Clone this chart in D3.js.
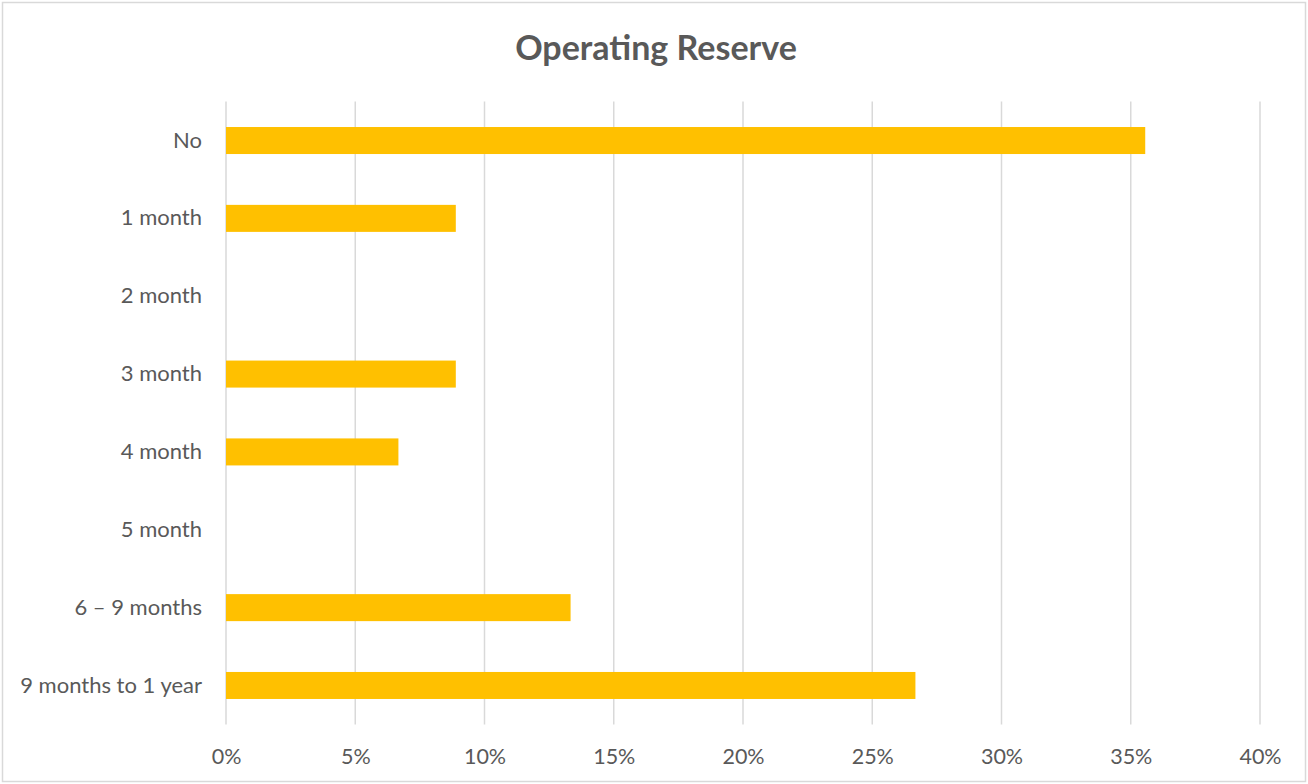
<!DOCTYPE html>
<html>
<head>
<meta charset="utf-8">
<script src="https://cdn.jsdelivr.net/npm/d3@7"></script>
<style>
  html, body { margin: 0; padding: 0; background: #fff; }
  svg { display: block; }
  text { font-family: Lato, "Open Sans", sans-serif; }
</style>
</head>
<body>
<svg id="chart" width="1308" height="784"></svg>
<script>
// Share of respondents by size of operating reserve
const categories = ["No", "1 month", "2 month", "3 month", "4 month", "5 month", "6 \u2013 9 months", "9 months to 1 year"];
const shares = [0.3556, 0.0889, 0, 0.0889, 0.0667, 0, 0.1333, 0.2667];
const tickValues = [0, 0.05, 0.10, 0.15, 0.20, 0.25, 0.30, 0.35, 0.40];
const chartTitle = "Operating Reserve";

const svg = d3.select("#chart");
const W = 1308, H = 784;
const margin = { top: 101.6, right: 48, bottom: 59.6, left: 226 };
const labelFont = "Lato, 'Open Sans', sans-serif";

// chart frame
svg.append("rect")
  .attr("x", 2.5).attr("y", 2.5)
  .attr("width", W - 5).attr("height", H - 5)
  .attr("fill", "#fff").attr("stroke", "#d9d9d9").attr("stroke-width", 1.5);

const x = d3.scaleLinear().domain([0, 0.4]).range([margin.left, W - margin.right]);
const y = d3.scaleBand().domain(categories)
  .range([margin.top, H - margin.bottom])
  .paddingInner(0.653).paddingOuter(0.3265);

// vertical gridlines
svg.append("g").selectAll("line").data(tickValues).join("line")
  .attr("x1", d => x(d)).attr("x2", d => x(d))
  .attr("y1", margin.top).attr("y2", H - margin.bottom)
  .attr("stroke", "#d9d9d9").attr("stroke-width", 1.5);

// bars
svg.append("g").selectAll("rect").data(categories).join("rect")
  .attr("x", x(0))
  .attr("y", d => y(d))
  .attr("width", (d, i) => x(shares[i]) - x(0))
  .attr("height", y.bandwidth())
  .attr("fill", "#ffc000");

// x axis labels
const xAxis = d3.axisBottom(x).tickValues(tickValues).tickFormat(d3.format(".0%")).tickSize(0).tickPadding(24);
const gx = svg.append("g").attr("transform", `translate(0,${H - margin.bottom})`).call(xAxis);
gx.select(".domain").remove();
gx.selectAll("text").attr("font-size", 21.5).attr("fill", "#595959")
  .style("font-family", labelFont);

// y axis labels
const yAxis = d3.axisLeft(y).tickSize(0).tickPadding(24);
const gy = svg.append("g").attr("transform", `translate(${margin.left},0)`).call(yAxis);
gy.select(".domain").remove();
gy.selectAll("text").attr("font-size", 22).attr("fill", "#595959")
  .style("font-family", labelFont);

// title
svg.append("text")
  .attr("x", 656).attr("y", 60)
  .attr("text-anchor", "middle")
  .attr("font-size", 34).attr("font-weight", "bold").attr("fill", "#595959")
  .text(chartTitle);
</script>
</body>
</html>
